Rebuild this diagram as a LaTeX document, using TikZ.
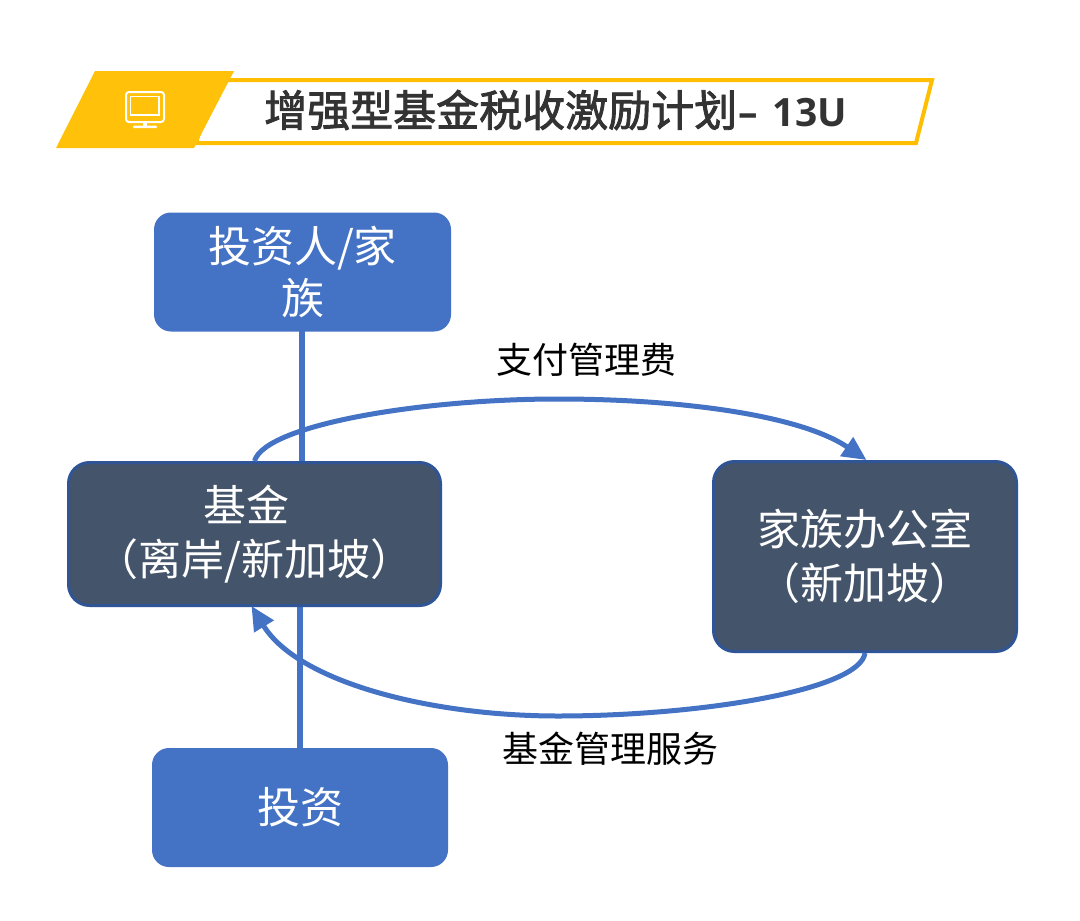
\documentclass[tikz,border=0pt]{standalone}
\usepackage{fontspec}
\setmainfont{Noto Sans CJK SC}
\newfontfamily\ttlfont[FakeBold=2]{Noto Sans CJK SC}
\newfontfamily\latbold{Open Sans}[BoldFont={Open Sans Bold}]
\usetikzlibrary{arrows.meta}
\definecolor{gold}{HTML}{FFC10A}
\definecolor{goldb}{HTML}{FFBF00}
\definecolor{blueb}{HTML}{4472C4}
\definecolor{slate}{HTML}{44546A}
\definecolor{slateb}{HTML}{2F5597}
\definecolor{ttl}{HTML}{333333}
\tikzset{
  x=1pt,y=-1pt,
  bluebox/.style={fill=blueb,draw=none,rounded corners=17pt,text=white,align=center,font=\fontsize{43}{52}\selectfont,inner sep=0pt},
  darkbox/.style={fill=slate,draw=slateb,line width=3pt,rounded corners=21pt,text=white,align=center,font=\fontsize{43}{54}\selectfont,inner sep=0pt},
  vline/.style={draw=blueb,line width=5.5pt},
  flow/.style={draw=blueb,line width=5pt,-{Triangle[length=24pt,width=22pt]}},
  caplabel/.style={text=black,font=\fontsize{36}{40}\selectfont,inner sep=0pt},
}
\begin{document}
\begin{tikzpicture}
\useasboundingbox (0,0) rectangle (1080,921);
\fill[white] (0,0) rectangle (1080,921);
% title band
\draw[draw=goldb,line width=4pt,fill=white] (215,80) -- (932,80) -- (916,143) -- (196,143) -- cycle;
\fill[gold] (95,71) -- (234,71) -- (194,148) -- (56,148) -- cycle;
% monitor icon
\draw[white,line width=2pt,rounded corners=3pt] (126,92) rectangle (164,122);
\draw[white,line width=1.2pt] (130.5,96.5) rectangle (159,115);
\fill[white] (143,122) rectangle (147,126);
\fill[white,rounded corners=1pt] (133,125.5) rectangle (157,128);
\node[text=ttl,anchor=west,inner sep=0pt,font=\fontsize{43}{48}\ttlfont] (title) at (264,110)
  {增强型基金税收激励计划{\latbold\fontsize{39}{48}\selectfont\bfseries\kern1pt–\ \kern5pt 13U}};
% boxes
\node[bluebox,minimum width=297pt,minimum height=119pt] (inv) at (302.5,272) {投资人/家\\族};
\node[bluebox,minimum width=296pt,minimum height=119pt] (asset) at (300,807.5) {投资};
% lines behind dark boxes
\coordinate (invb) at (302,331);
\coordinate (assett) at (300,748);
\coordinate (fundtop) at (302,462);
\coordinate (fundbot) at (300,604);
\draw[vline] (invb) -- (fundtop);
\draw[vline] (fundbot) -- (assett);
\node[darkbox,minimum width=372pt,minimum height=143pt] (fund) at (254.5,534) {\hspace*{-16pt}基金\\（离岸/新加坡）};
\node[darkbox,minimum width=303pt,minimum height=190pt] (fo) at (865,556.5) {家族办公室\\（新加坡）};
% flows
\coordinate (topmid) at (558,399);
\coordinate (botmid) at (558,716);
\draw[flow] (fund.north) .. controls (265,425) and (420,399) .. (topmid) .. controls (680,399) and (800,415) .. ([xshift=1.5pt]fo.north);
\draw[flow] (fo.south) .. controls (860,690) and (700,716) .. (botmid) .. controls (430,716) and (298,682) .. ([xshift=-3pt,yshift=1pt]fund.south);
\node[caplabel] (lab1) at (586.5,360) {支付管理费};
\node[caplabel] (lab2) at (610,749) {基金管理服务};
\end{tikzpicture}
\end{document}
